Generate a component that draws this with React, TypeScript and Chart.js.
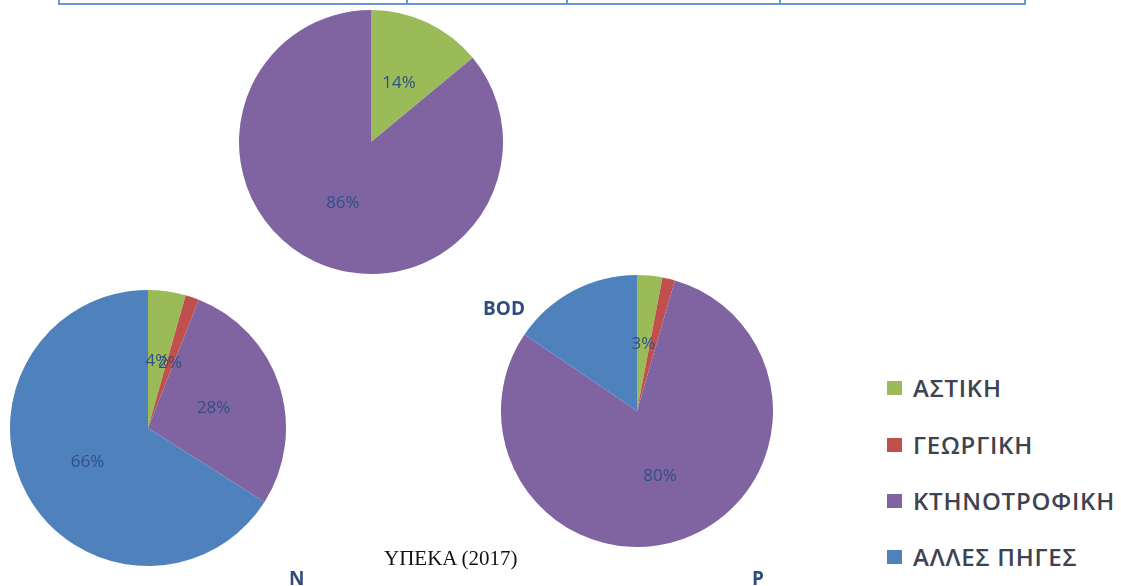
import React, { useEffect, useRef } from "react";
import { Chart, registerables } from "chart.js";

Chart.register(...registerables);

// ---- data ----
const categories = ["ΑΣΤΙΚΗ", "ΓΕΩΡΓΙΚΗ", "ΚΤΗΝΟΤΡΟΦΙΚΗ", "ΑΛΛΕΣ ΠΗΓΕΣ"];
const sliceColors = ["#9BBB59", "#C0504D", "#8064A2", "#4F81BD"];

const bodValues = [14, 0, 86, 0];
const bodLabels = ["14%", "", "86%", ""];

const nValues = [4.4, 1.6, 28, 66];
const nLabels = ["4%", "2%", "28%", "66%"];

const pValues = [3, 1.5, 80, 15.5];
const pLabels = ["3%", "", "80%", ""];

const sourceText = "ΥΠΕΚΑ (2017)";
const tableColumnEdges = [58, 406, 566, 779, 1024];

// ---- layout ----
const FONT = "'Open Sans', 'Noto Sans', sans-serif";
const LABEL_COLOR = "#2F4F85";
const TITLE_COLOR = "#2E4C7C";

const sliceLabelPlugin = {
  id: "sliceLabels",
  afterDatasetsDraw(chart: any, _args: any, opts: any) {
    const labels: string[] = opts.labels || [];
    const ctx = chart.ctx;
    const meta = chart.getDatasetMeta(0);
    ctx.save();
    ctx.font = `17px ${FONT}`;
    ctx.fillStyle = LABEL_COLOR;
    ctx.textAlign = "center";
    ctx.textBaseline = "middle";
    meta.data.forEach((arc: any, i: number) => {
      const txt = labels[i];
      if (!txt) return;
      const p = arc.getProps(["x", "y", "startAngle", "endAngle", "outerRadius"], true);
      const a = (p.startAngle + p.endAngle) / 2;
      const r = p.outerRadius * 0.5;
      ctx.fillText(txt, p.x + Math.cos(a) * r, p.y + Math.sin(a) * r + 1);
    });
    ctx.restore();
  },
};

function PieChart(props: { values: number[]; labels: string[]; cx: number; cy: number; radius: number }) {
  const ref = useRef<HTMLCanvasElement | null>(null);
  const size = 300;
  useEffect(() => {
    if (!ref.current) return;
    const chart = new Chart(ref.current, {
      type: "pie",
      data: {
        labels: categories,
        datasets: [
          {
            data: props.values,
            backgroundColor: sliceColors,
            borderWidth: 0,
            hoverOffset: 0,
          },
        ],
      },
      options: {
        responsive: false,
        animation: false,
        radius: props.radius,
        layout: { padding: 0 },
        events: [],
        plugins: {
          legend: { display: false },
          tooltip: { enabled: false },
          title: { display: false },
          sliceLabels: { labels: props.labels },
        } as any,
      } as any,
      plugins: [sliceLabelPlugin],
    });
    return () => chart.destroy();
  }, []);
  return (
    <canvas
      ref={ref}
      width={size}
      height={size}
      style={{
        position: "absolute",
        left: props.cx - size / 2,
        top: props.cy - size / 2,
        width: size,
        height: size,
      }}
    />
  );
}

const legendRows = [389, 446, 502, 558];

export default function App() {
  return (
    <div
      style={{
        position: "absolute",
        left: 0,
        top: 0,
        width: 1121,
        height: 586,
        overflow: "hidden",
        background: "#ffffff",
      }}
    >
      {/* table border remnants at top */}
      <div
        style={{
          position: "absolute",
          left: tableColumnEdges[0],
          top: 3,
          width: tableColumnEdges[tableColumnEdges.length - 1] - tableColumnEdges[0] + 2,
          height: 2,
          background: "#6A98D4",
        }}
      />
      {tableColumnEdges.map((x, i) => (
        <div
          key={i}
          style={{ position: "absolute", left: x, top: 0, width: 2, height: 5, background: "#6A98D4" }}
        />
      ))}

      <PieChart values={bodValues} labels={bodLabels} cx={371} cy={142} radius={132} />
      <PieChart values={nValues} labels={nLabels} cx={148} cy={428} radius={138} />
      <PieChart values={pValues} labels={pLabels} cx={637} cy={411} radius={136} />

      {/* chart titles */}
      <div
        style={{
          position: "absolute",
          left: 483,
          top: 298,
          fontFamily: FONT,
          fontWeight: 700,
          fontSize: 19,
          lineHeight: "20px",
          color: TITLE_COLOR,
          whiteSpace: "nowrap",
        }}
      >
        BOD
      </div>
      <div
        style={{
          position: "absolute",
          left: 289,
          top: 568,
          fontFamily: FONT,
          fontWeight: 700,
          fontSize: 19,
          lineHeight: "20px",
          color: TITLE_COLOR,
        }}
      >
        N
      </div>
      <div
        style={{
          position: "absolute",
          left: 752,
          top: 568,
          fontFamily: FONT,
          fontWeight: 700,
          fontSize: 19,
          lineHeight: "20px",
          color: TITLE_COLOR,
        }}
      >
        P
      </div>

      {/* source */}
      <div
        style={{
          position: "absolute",
          left: 384,
          top: 548,
          fontFamily: "'Liberation Serif', 'Times New Roman', serif",
          fontSize: 21,
          lineHeight: "21px",
          color: "#111111",
          whiteSpace: "nowrap",
        }}
      >
        {sourceText}
      </div>

      {/* legend */}
      {categories.map((c, i) => (
        <div
          key={c}
          style={{
            position: "absolute",
            left: 887,
            top: legendRows[i] - 16,
            height: 30,
            display: "flex",
            alignItems: "center",
            whiteSpace: "nowrap",
          }}
        >
          <span
            style={{ display: "inline-block", width: 15, height: 14, background: sliceColors[i], marginRight: 11 }}
          />
          <span
            style={{
              fontFamily: FONT,
              fontSize: 24,
              fontWeight: 600,
              lineHeight: "30px",
              letterSpacing: 0.8,
              color: "#3D4350",
            }}
          >
            {c}
          </span>
        </div>
      ))}
    </div>
  );
}
